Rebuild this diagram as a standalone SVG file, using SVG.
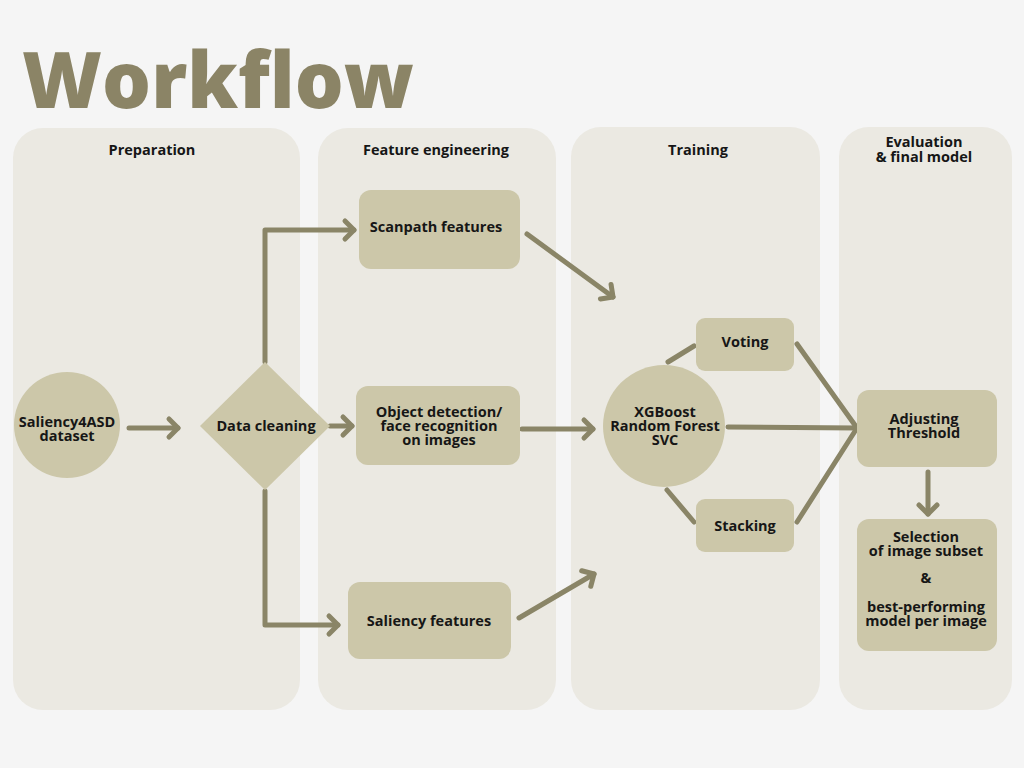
<svg xmlns="http://www.w3.org/2000/svg" width="1024" height="768" viewBox="0 0 1024 768">
<defs>
<style>
.lane{fill:#ebe9e2}
.node{fill:#ccc7a9}
.t{font-family:"Open Sans","Liberation Sans",sans-serif;font-weight:700;font-size:14.5px;fill:#161616;text-anchor:middle}
.h{font-family:"Open Sans","Liberation Sans",sans-serif;font-weight:700;font-size:14.5px;fill:#161616;text-anchor:middle}
.c{fill:none;stroke:#8a8567;stroke-width:5;stroke-linecap:round;stroke-linejoin:round}
</style>
<marker id="ah" markerUnits="userSpaceOnUse" markerWidth="30" markerHeight="30" viewBox="-15 -15 30 30" refX="0" refY="0" orient="auto">
<path d="M-9,-9 L0,0 L-9,9" fill="none" stroke="#8a8567" stroke-width="5" stroke-linecap="round" stroke-linejoin="round"/>
</marker>
</defs>
<rect width="1024" height="768" fill="#f5f5f5"/>
<text x="22" y="108" font-family="'Open Sans','Liberation Sans',sans-serif" font-weight="800" font-size="78" textLength="392" lengthAdjust="spacingAndGlyphs" fill="#8b8466">Workflow</text>
<g id="lanes">
<rect class="lane" x="13" y="128" width="287" height="582" rx="30"/>
<rect class="lane" x="318" y="128" width="238" height="582" rx="30"/>
<rect class="lane" x="571" y="127" width="249" height="583" rx="30"/>
<rect class="lane" x="839" y="127" width="173" height="583" rx="30"/>
<text class="h" x="152" y="155">Preparation</text>
<text class="h" x="436" y="155">Feature engineering</text>
<text class="h" x="698" y="155">Training</text>
<text class="h" x="924" y="147">Evaluation</text>
<text class="h" x="924" y="162">&amp; final model</text>
</g>
<g id="connectors">
<line class="c" x1="129" y1="428" x2="178" y2="428" marker-end="url(#ah)"/>
<polyline class="c" points="265,362 265,230 354,230" marker-end="url(#ah)"/>
<line class="c" x1="330" y1="426" x2="352" y2="426" marker-end="url(#ah)"/>
<polyline class="c" points="265,491 265,625 338,625" marker-end="url(#ah)"/>
<line class="c" x1="527" y1="234" x2="613" y2="297" marker-end="url(#ah)"/>
<line class="c" x1="522" y1="429" x2="593" y2="429" marker-end="url(#ah)"/>
<line class="c" x1="519" y1="618" x2="594" y2="574" marker-end="url(#ah)"/>
<line class="c" x1="668" y1="362" x2="694" y2="346"/>
<line class="c" x1="667" y1="490" x2="694" y2="522"/>
<line class="c" x1="797" y1="344" x2="857" y2="428"/>
<line class="c" x1="728" y1="427" x2="857" y2="428"/>
<line class="c" x1="797" y1="522" x2="857" y2="428"/>
<line class="c" x1="928" y1="472" x2="928" y2="514" marker-end="url(#ah)"/>
</g>
<g id="saliency4asd">
<circle class="node" cx="67" cy="425" r="53"/>
<text class="t" x="67" y="427">Saliency4ASD</text>
<text class="t" x="67" y="441">dataset</text>
</g>
<g id="data-cleaning">
<polygon class="node" points="265,362 330,426 265,490 200,426"/>
<text class="t" x="266" y="431">Data cleaning</text>
</g>
<g id="scanpath">
<rect class="node" x="359" y="190" width="161" height="79" rx="12"/>
<text class="t" x="436" y="232">Scanpath features</text>
</g>
<g id="object-detection">
<rect class="node" x="356" y="386" width="164" height="79" rx="12"/>
<text class="t" x="439" y="417">Object detection/</text>
<text class="t" x="439" y="431">face recognition</text>
<text class="t" x="439" y="445">on images</text>
</g>
<g id="saliency-features">
<rect class="node" x="348" y="582" width="163" height="77" rx="12"/>
<text class="t" x="429" y="626">Saliency features</text>
</g>
<g id="models">
<circle class="node" cx="664" cy="426" r="61"/>
<text class="t" x="665" y="417">XGBoost</text>
<text class="t" x="665" y="431">Random Forest</text>
<text class="t" x="665" y="445">SVC</text>
</g>
<g id="voting">
<rect class="node" x="696" y="318" width="98" height="53" rx="9"/>
<text class="t" x="745" y="347">Voting</text>
</g>
<g id="stacking">
<rect class="node" x="696" y="499" width="98" height="53" rx="9"/>
<text class="t" x="745" y="531">Stacking</text>
</g>
<g id="adjusting">
<rect class="node" x="857" y="390" width="140" height="77" rx="12"/>
<text class="t" x="924" y="424">Adjusting</text>
<text class="t" x="924" y="438">Threshold</text>
</g>
<g id="selection">
<rect class="node" x="857" y="519" width="140" height="132" rx="12"/>
<text class="t" x="926" y="542">Selection</text>
<text class="t" x="926" y="556">of image subset</text>
<text class="t" x="926" y="583">&amp;</text>
<text class="t" x="926" y="612">best-performing</text>
<text class="t" x="926" y="626">model per image</text>
</g>
</svg>
